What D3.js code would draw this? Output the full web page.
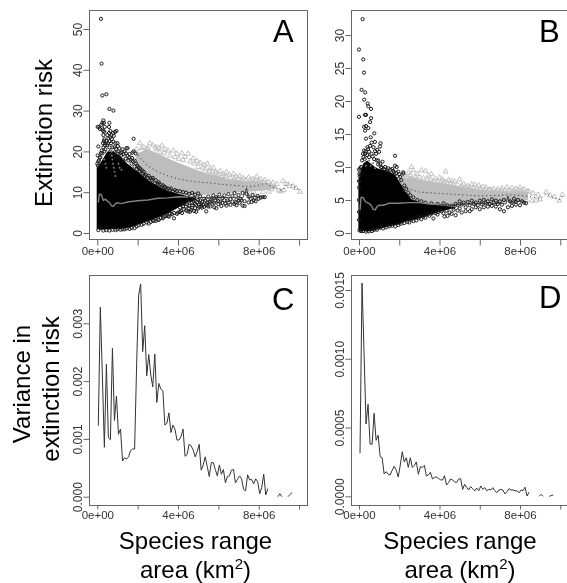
<!DOCTYPE html>
<html><head><meta charset="utf-8">
<script src="https://cdnjs.cloudflare.com/ajax/libs/d3/7.8.5/d3.min.js"></script>
<style>html,body{margin:0;padding:0;background:#fff;overflow:hidden}svg{display:block;filter:blur(0.35px)}text{font-family:"Liberation Sans",Arial,sans-serif}</style>
</head><body><svg id="c" width="567" height="583"></svg>
<script>
// x values are in millions of km2
const xTicks=[0,2,4,6,8,10];
const xTickLabels=["0e+00","","4e+06","","8e+06",""];
const yTicksA=[0,10,20,30,40,50], yTicksB=[0,5,10,15,20,25,30];
const yTicksC=[0,0.001,0.002,0.003], yTickLabelsC=["0.000","0.001","0.002","0.003"];
const yTicksD=[0,0.0005,0.001,0.0015], yTickLabelsD=["0.0000","0.0005","0.0010","0.0015"];

// dense black mass: [x, upper, lower]
const massA=[[-0.03,16,1],[0.2,17.5,0.8],[0.5,20,0.9],[0.8,20,1],[1.1,19,1],[1.5,17,1.2],[1.8,15.8,1.6],[2,15,2],[2.5,13,2.9],[3,11.5,3.8],[3.5,10.3,4.8],[4,9.6,6.2],[4.5,9,7.6],[4.9,8.6,8]];
const massB=[[-0.03,8,0.4],[0.05,9,0.3],[0.2,10.5,0.3],[0.4,11,0.2],[0.6,10.5,0.3],[0.8,10,0.4],[1,9.7,0.6],[1.4,9.5,0.9],[1.8,8.8,1.2],[2,7.8,1.3],[2.3,6.3,1.7],[2.6,5.1,1.9],[3,4.7,2.2],[3.5,4.4,2.7],[4,4.2,3.2],[4.5,4,3.6],[4.8,3.9,3.85]];
// dense grey mass: [x, upper, lower]
const greyA=[[1.9,19.5,15],[2.2,20,13.5],[2.5,20.5,12.5],[3,19.5,11],[3.5,18.3,10],[4,17.2,9.4],[4.5,16.3,9.2],[5,15.3,9.2],[5.5,14.6,9.4],[6,14,9.6],[6.5,13.2,9.8],[7,12.9,10],[7.5,12.6,10.2],[8,12.6,10.3],[8.5,12,10.6],[8.9,11.5,10.9]];
const greyB=[[1.9,8,7.6],[2.2,8.2,6.3],[2.5,8.5,5.3],[2.7,8.4,4.9],[3,8.1,4.6],[3.5,7.8,4.3],[4,7.6,4.1],[4.5,7.3,4],[5,7,4.2],[5.5,6.8,4.3],[6,6.6,4.3],[6.5,6.4,4.5],[7,6.4,4.6],[7.5,6.4,4.7],[8,6.4,4.8],[8.4,6.2,5]];
// mean curves
const meanLowA=[[0.05,7.5],[0.1,9.5],[0.2,9.4],[0.3,8],[0.4,8.3],[0.5,7.8],[0.6,7.5],[0.7,6.7],[0.8,6.5],[0.9,7.2],[1,7.4],[1.2,7.2],[1.5,7.6],[2,7.9],[2.5,8.1],[3,8.5],[3.5,8.6],[4,8.9],[4.5,8.8]];
const meanLowTailA=[[4.5,8.8],[5,8.8],[5.5,8.6],[6,8.7],[6.5,8.7],[7,8.8],[7.2,8.5],[7.4,11],[7.5,8.5],[7.7,9],[8,9],[8.3,8.8]];
const meanHighA=[[1.9,19.8],[2.2,18],[2.5,16.5],[3,15],[3.5,14],[4,13.3],[4.5,12.8],[5,12.5],[5.5,12.3],[6,12],[6.5,11.8],[7,11.6],[7.5,11.3],[8,11.7],[8.3,12.2],[8.6,11.5],[9,10.6],[9.2,10.5],[9.45,12.5],[9.7,11.5],[9.9,11],[10.05,10.3]];
const meanLowB=[[0.05,3.5],[0.1,5.4],[0.2,5.4],[0.3,4.8],[0.4,4.6],[0.5,4.5],[0.6,4.2],[0.7,3.6],[0.8,3.5],[0.9,4],[1,4.2],[1.2,4.2],[1.5,4.5],[2,4.5],[2.5,4.6],[3,4.6],[3.5,4.4],[4,4.3]];
const meanLowTailB=[[4,4.3],[4.5,4.2],[5,4.3],[5.5,4.4],[6,4.5],[6.5,4.4],[7,4.5],[7.3,4.4],[7.4,5.6],[7.5,4.6],[8,4.8],[8.3,4.6]];
const meanHighB=[[2.03,7.3],[2.4,6.7],[3,6.2],[4,6],[4.5,5.9],[5,5.8],[6,5.6],[7,5.7],[7.4,5.8],[8,5.7],[8.5,5.5],[9,5.2],[9.3,5.9],[9.7,5.3],[9.95,5],[10.1,5.6]];

// individually readable circles
const circlesA=[[0.18,52.5],[0.21,41.5],[0.25,33.7],[0.45,34],[0.6,30.4],[0.8,30],[0.02,26],[0.1,26],[0.13,25.5],[0.2,26.5],[0.25,27],[0.3,27.6],[0.33,27],[0.37,26],[0.25,25.3],[0.3,25],[0.35,24.8],[0.6,27],[0.58,26],[0.65,25],[0.95,25],[0.88,24.8],[0.78,24.5],[0.82,23.8],[0.7,24],[0.72,23],[0.62,22.5],[0.3,24],[0.35,23],[0.55,23.2],[0.4,22],[0.05,21.2],[0.3,21],[0.4,20.5],[0.5,21.5],[0.6,21],[0.75,21],[0.9,22],[1,22],[1.02,21.3],[1.1,20.7],[1.25,20.5],[1.45,20.8],[1.5,20.8],[1.8,23.1],[1.8,20],[1.75,19.7],[1.6,19.4],[1.9,19.5],[0.02,19],[0.05,17.5],[0.15,18.5],[0.25,19.5],[0.35,20],[0.65,20],[0.85,19.7],[1,19.5],[1.2,19],[1.4,18.2],[1.55,17.8],[1.7,17],[1.85,16.3],[1.95,15.6],[2.1,15.2],[2.25,14.6],[2.35,14],[2.5,13.5],[2.7,13],[2.85,12.2],[3,12],[3.2,11.4],[3.4,11],[3.6,10.5],[3.75,10.2],[1.3,17.8],[1.1,18.5],[0.95,18.8],[0.7,19],
[3.8,3.6],[4,5],[4.1,5.2],[4.2,4.9],[4.4,5.5],[4.5,5.3],[4.6,5.2],[4.7,6.2],[4.8,5.4],[4.9,5.2],[5.05,7],[5.2,6.2],[5.4,5.3],[5.6,6.5],[5.7,7.2],[5.8,6.3],[5.9,6.1],[6,7.1],[6.15,6.6],[6.3,8],[6.4,6.7],[6.6,6.9],[6.8,7.1],[6.9,6.8],[7.05,7.4],[7.2,6.7],[7.3,6.6],[7.5,7.5],[7.65,7.6],[7.75,8],[7.85,7.8],[8,8.4],[8.1,8.7],[8.3,8.8],[3.3,4],[3.5,4.2],[3.6,4.7],[3.7,4.6],[2.8,3],[3,3.3],[3.15,3.7],[2.2,2],[2.45,2.6],[2.65,2.7],[1.85,1.2],[1.6,1],[1.35,0.9],[1.15,0.8],[0.05,0.7],[0.15,1.3],
[4.2,7],[4.4,6.5],[4.5,7.7],[4.6,8.2],[4.7,7.4],[4.8,8.6],[4.9,6.9],[5,8.1],[5.1,9],[5.2,7.6],[5.3,8.4],[5.4,7],[5.5,8.9],[5.55,7.7],[5.65,8.2],[5.75,9.2],[5.85,7.9],[5.95,8.5],[6.05,9.4],[6.1,7.7],[6.2,8.6],[6.3,9.2],[6.45,8],[6.5,9.5],[6.6,8.3],[6.7,9],[6.8,9.8],[6.9,8.2],[7,9.3],[7.1,8.4],[7.2,9.8],[7.3,7.8],[7.4,9.6],[7.5,8.9],[7.6,8.4],[7.7,9.3],[7.8,8.6],[7.95,9.1],[8.2,8.8]];
const fringeA=[[0,17],[0.03,16.5],[0.08,17.8],[0.12,18.6],[0.18,19.6],[0.22,20.2],[0.28,22],[0.33,22.5],[0.38,21.5],[0.45,22.5],[0.5,24],[0.53,22],[0.58,24.5],[0.64,23.5],[0.68,22],[0.8,22.4],[0.85,21],[0.92,20.6],[1.05,20],[1.15,19.6],[1.22,19.8],[1.3,19.3],[1.35,20],[1.42,19.5],[1.5,18.9],[1.58,18.5],[1.65,18],[1.72,18.4],[1.78,17.5],[1.85,17.7],[1.92,17],[1.98,16.5],[2.05,16.1],[2.12,15.8],[2.2,15.4],[2.3,15],[2.4,14.3],[2.55,14],[2.65,13.4],[2.75,13.5],[2.9,12.9],[3.05,12.4],[3.1,11.9],[3.25,11.7],[3.35,11.3],[3.5,10.9],[3.65,10.9],[3.85,10.5],[3.95,10.3],[4.1,10.2],[4.25,10],[4.4,9.9],[4.55,9.6],[4.7,9.8],[4.85,9.4],[5,9.7],
[0.3,0.6],[0.45,0.7],[0.6,0.6],[0.75,0.8],[0.9,0.7],[1,0.9],[1.25,0.9],[1.45,1.1],[1.7,1.2],[1.95,1.6],[2.05,1.9],[2.3,2.3],[2.55,2.3],[2.75,3],[2.9,3],[3.05,3.2],[3.25,3.6],[3.4,4.1],[3.55,4],[3.8,4.9],[3.95,4.7],[4.15,5.5],[4.3,5.8],[4.55,6],[4.65,5.7],[4.85,6.1],[5,6],[5.15,6.5],[5.3,6.4],[5.45,6.8],
[4.1,6.2],[4.25,6.6],[4.3,7.3],[4.45,7],[4.55,6.7],[4.7,6.8],[4.75,7.9],[4.85,7.2],[4.95,7.6],[5.05,6.4],[5.1,8],[5.15,7.2],[5.25,6.9],[5.35,8],[5.45,7.5],[5.5,6.5],[5.6,7.6],[5.7,8.5],[5.8,7.4],[5.9,8.8],[6,7.8],[6.2,7.4],[6.35,7.2],[6.5,7.5],[6.7,7.7],[6.85,7.5],[7,7.9],[7.15,8]];
const circlesB=[[0.18,32.4],[0,27.8],[0.21,26.3],[0.25,24.3],[0.13,21.7],[0.31,21.3],[0.26,20.2],[0.43,19.6],[0.46,19.2],[0.6,18.8],[0,17.6],[0.3,17.9],[0.35,17.9],[0.6,17.4],[0.55,16.8],[0.25,16.1],[0.35,16.2],[0.46,15.9],[0.3,15.5],[0.76,15.1],[0.35,14.3],[0.58,14.5],[0.63,13.7],[0.79,13.8],[1.07,13.6],[1.04,13.1],[0.9,12.6],[0.72,13],[0.55,13.2],[0.42,13],[0.25,12.5],[0.2,12],[0.3,12],[0.5,12.3],[0.85,12],[1,12.3],[1.17,10.8],[1.05,10.5],[0.95,11],[1.79,11.7],[1.79,10.2],[1.87,10],[2.2,9.2],[1.95,9.3],[1.75,9.2],[2,8.9],[2.2,9],[1.55,9.6],[1.4,9.5],[1.25,9.7],[1.9,8.6],[0,9.6],[0.05,9.8],[0.03,8.6],[0.08,8.9],[0,6.9],[-0.01,5],[0,3.2],[0,2],[0.02,0.4],[0.1,0.3],
[2.5,1.6],[2.6,2],[2.85,1.9],[3,2.5],[3.1,2.1],[3.3,2.3],[3.5,2.6],[3.7,2.2],[3.8,3],[3.9,2.8],[4.2,3],[4.25,2.5],[4.4,2.6],[4.5,3.1],[4.6,2.9],[4.8,2.7],[4.9,3.4],[5,3.7],[5.1,3.1],[5.3,3.3],[5.5,3.3],[5.6,3.6],[5.8,3.9],[6,3.6],[6.2,3.9],[6.4,4],[6.6,4.1],[6.8,4],[7,3.6],[7.2,3.3],[7.4,3.9],[7.6,4.1],[7.8,4.3],[8,4.2],[8.3,4.5],
[4.6,4.1],[4.7,3.9],[4.8,4.4],[4.9,4.2],[5,4.8],[5.1,4.3],[5.2,4.6],[5.3,3.9],[5.4,4.7],[5.5,4.2],[5.6,4.9],[5.7,4.4],[5.8,4.6],[5.9,4.2],[6,4.9],[6.1,4.4],[6.2,5],[6.3,4.5],[6.4,4.8],[6.5,4.4],[6.6,5.1],[6.7,4.6],[6.8,4.9],[6.9,4.4],[7,4.8],[7.1,4.3],[7.2,5],[7.5,4.8],[7.6,4.6],[7.7,5.2],[7.8,4.7],[7.9,5],[8.1,4.8],[8.2,4.6]];
const fringeB=[[0,7.9],[0.02,9],[0.1,10],[0.15,11],[0.22,11.5],[0.28,11.2],[0.33,12.4],[0.4,11.8],[0.45,12.7],[0.5,11.5],[0.62,12],[0.68,11.6],[0.75,11.2],[0.8,12.4],[0.88,11],[0.95,10.4],[1.1,10],[1.15,9.9],[1.3,10],[1.45,9.8],[1.65,9.7],[1.7,9.4],[1.85,9.1],[2.05,8.5],[2.1,8],[2.25,7.2],[2.35,6.7],[2.45,6.1],[2.55,5.7],[2.7,5.4],[2.9,5],[3.1,4.8],[3.3,4.6],[3.6,4.5],[3.9,4.4],[4.2,4.5],[4.4,4.2],
[0.2,0.3],[0.35,0.2],[0.5,0.25],[0.65,0.3],[0.75,0.45],[0.9,0.5],[1.05,0.8],[1.2,0.7],[1.35,0.85],[1.5,1],[1.65,1.1],[1.8,1],[1.95,1.2],[2.1,1.4],[2.25,1.5],[2.4,1.7],[2.7,1.8],[2.95,2.2],[3.2,2.5],[3.4,2.8],[3.6,2.9],[3.95,3.2],[4.1,3.3],[4.35,3.4],[4.7,3.5]];
// paler streaks seen inside the mass
const streakA=[[0.68,21],[0.7,20],[0.72,19],[0.75,18],[0.78,17],[0.82,16],[0.86,15],[0.9,14],[1.05,17],[1.1,16],[1.2,15.5],[0.35,18],[0.4,17],[0.45,16]];
const streakB=[[0.3,11],[0.35,10.2],[0.5,11],[0.58,10.2],[0.7,10.6],[0.8,9.8]];
// individually readable triangles
const trianglesA=[[1.95,20.5],[2.1,22],[2.3,21],[2.45,20.6],[2.6,22],[2.75,21.5],[2.95,20.5],[3.2,21.4],[3.35,20.5],[3.5,20.2],[3.77,20.2],[3.95,19.4],[4.2,19.5],[4.5,19.4],[4.35,18.6],[4.76,18.3],[4.95,17.6],[5.1,17.2],[5.3,16.7],[5.45,17],[5.6,15.8],[5.75,16],[5.9,14.9],[6.1,15.2],[6.25,14.5],[6.4,14.9],[6.75,14.5],[6.55,14.3],[6.9,13.8],[7.07,14],[7.25,13.4],[7.5,13.6],[7.7,13.2],[7.9,13.8],[8.1,13.2],[8.3,13],[8.5,12.5],[8.7,12.3],[8.9,12],[9.2,12.7],[9.35,12],[9.5,11.5],[9.7,11.4],[9.85,11],[8.2,10.1],[8.5,10.1],[8.65,10.7],[9,10.4],[9.1,10.2],[9.25,10.5],[10.05,10.1],[7.45,10],[7.75,10.1],[3.1,19.8],[2.85,19.2],
[2.2,20.8],[2.5,20.7],[2.9,21],[3.05,20.9],[3.3,19.5],[3.6,19],[3.85,18.6],[4.05,18.2],[4.25,17.9],[4.6,17.5],[4.8,17],[5,16.2],[5.2,16],[5.35,15.6],[5.55,15.2],[5.7,15],[5.85,14.8],[6,14.5],[6.2,14],[6.35,14],[6.6,13.6],[6.8,13.5],[7,13.2],[7.15,13],[7.35,13],[7.6,13],[7.8,13],[8,12.9],[8.25,12.4],[8.4,12.3],[8.6,11.9]];
const trianglesB=[[2.05,8.3],[2.25,8.7],[2.45,9.1],[2.6,10],[2.7,9.5],[2.9,8.9],[3.1,9.5],[3.3,9.4],[3.45,8.7],[3.6,8.9],[3.8,8.2],[4,8.4],[4.15,8.1],[4.3,9.3],[4.45,8],[4.6,7.9],[4.75,7.8],[5,8.1],[5.2,7.4],[5.4,7.1],[5.6,7.4],[5.75,7.3],[5.95,7.2],[6.15,7],[6.3,6.9],[6.5,6.6],[6.7,6.7],[6.9,6.6],[7.1,6.8],[7.35,6.9],[7.6,6.8],[7.8,6.7],[8,6.9],[8.2,6.6],[8.45,6.3],[8.65,6],[8.9,5.8],[9.3,6.2],[9.5,5.7],[9.7,5.5],[9.95,4.9],[10.1,5.8],[8.6,4.9],[8.8,4.9],[9,5.1],[8.3,5],[7.7,5.2],[5.2,4.4],[5.8,4.6],
[2.15,8.4],[2.35,8.5],[2.55,8.8],[2.8,8.6],[3,8.5],[3.2,8.3],[3.4,8.1],[3.55,8],[3.7,7.9],[3.9,7.9],[4.1,7.8],[4.25,7.8],[4.4,7.6],[4.55,7.5],[4.7,7.4],[4.9,7.3],[5.1,7.2],[5.3,7],[5.5,6.9],[5.7,6.9],[5.85,6.8],[6.05,6.7],[6.25,6.6],[6.45,6.5],[6.6,6.5],[6.85,6.4],[7.05,6.5],[7.25,6.5],[7.5,6.5],[7.7,6.5],[7.9,6.5],[8.1,6.5],[8.35,6.3]];

// binned variance curves (null = empty bin)
const binMid=[0.05,0.15,0.25,0.35,0.45,0.55,0.65,0.75,0.85,0.95,1.05,1.15,1.25,1.35,1.45,1.55,1.65,1.75,1.85,1.95,2.05,2.15,2.25,2.35,2.45,2.55,2.65,2.75,2.85,2.95,3.05,3.15,3.25,3.35,3.45,3.55,3.65,3.75,3.85,3.95,4.05,4.15,4.25,4.35,4.45,4.55,4.65,4.75,4.85,4.95,5.05,5.15,5.25,5.35,5.45,5.55,5.65,5.75,5.85,5.95,6.05,6.15,6.25,6.35,6.45,6.55,6.65,6.75,6.85,6.95,7.05,7.15,7.25,7.35,7.45,7.55,7.65,7.75,7.85,7.95,8.05,8.15,8.25,8.35,8.45,8.55,8.65,8.75,8.85,8.95,9.05,9.15,9.25,9.35,9.45,9.55,9.65];
const varC=[1.228,3.277,2.105,.855,2.29,1.02,.986,2.567,1.32,1.742,
1.08,1.17,.618,.675,.652,.692,.796,.825,.825,2.3,
3.49,3.68,2.51,2.96,2.09,2.46,2.105,1.90,2.47,1.63,
1.96,1.86,1.83,1.24,1.27,1.45,1.11,1.24,1.166,.98,
.98,1.04,1.17,.70,.73,.906,.88,.81,.69,.78,
.906,.46,.55,.69,.52,.35,.59,.59,.47,.36,
.55,.39,.47,.24,.35,.36,.46,.47,.24,.30,
.36,.31,.13,.10,.38,.29,.30,.22,.31,.26,
.05,.16,.39,.03,.14,null,null,null,null,0,
.052,0,null,null,0,.035,.076];
const varD=[.313,1.55,1.05,.526,.669,.38,.378,.604,.407,.444,
.288,.28,.162,.179,.16,.155,.19,.218,.19,.14,
.225,.324,.25,.28,.21,.28,.21,.225,.25,.16,
.215,.21,.225,.148,.155,.175,.126,.138,.14,.13,
.12,.118,.15,.082,.10,.126,.118,.105,.10,.126,
.128,.05,.087,.066,.046,.07,.055,.039,.06,.041,
.075,.05,.063,.041,.05,.046,.063,.041,.026,.046,
.05,.046,.017,.033,.055,.046,.046,.041,.039,.026,
.046,.041,.066,.002,.03,null,null,null,null,0,
.015,0,null,null,0,.005,.01];

const svg=d3.select("#c");
const tickCol="#333", boxCol="#666";

function frame(o){
  const x=d3.scaleLinear().domain([0,8]).range([o.x0,o.x8]);
  const y=d3.scaleLinear().domain(o.yDom).range(o.yRange);
  svg.append("rect").attr("x",o.left+.5).attr("y",o.top+.5).attr("width",o.right-o.left).attr("height",o.bottom-o.top)
    .attr("fill","none").attr("stroke",boxCol).attr("stroke-width",1);
  const ax=d3.axisBottom(x).tickValues(xTicks).tickSize(o.tick).tickPadding(o.xPad).tickFormat((d,i)=>xTickLabels[i]);
  const gx=svg.append("g").attr("transform",`translate(0,${o.bottom+.5})`).call(ax);
  const ay=d3.axisLeft(y).tickValues(o.yTicks).tickSize(6).tickPadding(3).tickFormat((d,i)=>o.yLabels?o.yLabels[i]:d);
  const gy=svg.append("g").attr("transform",`translate(${o.left+.5},0)`).call(ay);
  [gx,gy].forEach(g=>{g.select(".domain").remove();g.selectAll("line").attr("stroke",boxCol);
    g.selectAll("text").attr("fill",tickCol).style("font-family",'"Liberation Sans",Arial,sans-serif');});
  gx.selectAll("text").style("font-size","11.5px");
  gy.selectAll("text").style("font-size","12px").attr("text-anchor","middle").attr("x",0).attr("y",0).attr("dy",0)
    .attr("transform","translate(-7.5,0) rotate(-90)");
  svg.append("text").text(o.letter).attr("x",o.lx).attr("y",o.ly).attr("font-size",31).attr("fill","#000");
  return {x,y};
}
function scatter(s,mass,grey,tri,circ,fringe,streak,meanHigh,meanLow,meanTail){
  const {x,y}=s;
  const g=svg.append("g");
  const area=d3.area().x(d=>x(d[0])).y0(d=>y(d[2])).y1(d=>y(d[1]));
  g.append("path").attr("d",area(grey)).attr("fill","#bdbdbd");
  const tr=d3.symbol().type(d3.symbolTriangle).size(11)();
  g.append("g").selectAll("path").data(tri).join("path").attr("d",tr)
    .attr("transform",d=>`translate(${x(d[0])},${y(d[1])})`).attr("fill","none").attr("stroke","#c0c0c0").attr("stroke-width",1);
  const ln=d3.line().x(d=>x(d[0])).y(d=>y(d[1]));
  g.append("path").attr("d",ln(meanHigh)).attr("fill","none").attr("stroke","#222").attr("stroke-width",1).attr("stroke-dasharray","1 3");
  g.append("path").attr("d",area(mass)).attr("fill","#000");
  g.append("g").selectAll("circle").data(circ.concat(fringe)).join("circle").attr("cx",d=>x(d[0])).attr("cy",d=>y(d[1])).attr("r",1.6)
    .attr("fill","none").attr("stroke","#1a1a1a").attr("stroke-width",1);
  g.append("g").selectAll("circle").data(streak).join("circle").attr("cx",d=>x(d[0])).attr("cy",d=>y(d[1])).attr("r",1)
    .attr("fill","#777").attr("stroke","none");
  g.append("path").attr("d",ln(meanLow)).attr("fill","none").attr("stroke","#808080").attr("stroke-width",1.4);
  g.append("path").attr("d",ln(meanTail)).attr("fill","none").attr("stroke","#333").attr("stroke-width",.9);
}
function variance(s,vals,scale){
  const {x,y}=s;
  const pts=binMid.map((m,i)=>[m,vals[i]]);
  const ln=d3.line().defined(d=>d[1]!==null).x(d=>x(d[0])).y(d=>y(d[1]*scale));
  svg.append("path").attr("d",ln(pts)).attr("fill","none").attr("stroke","#333").attr("stroke-width",1);
}
function title(txt,x,y,rot){
  const t=svg.append("text").attr("text-anchor","middle").attr("font-size",24).attr("fill","#000").text(txt);
  if(rot) t.attr("transform",`translate(${x},${y}) rotate(-90)`); else t.attr("x",x).attr("y",y);
}
function areaTitle(x,y){
  const t=svg.append("text").attr("x",x).attr("y",y).attr("text-anchor","middle").attr("font-size",24).attr("fill","#000");
  t.append("tspan").text("area (km");
  t.append("tspan").text("2").attr("font-size",15).attr("dy",-9);
  t.append("tspan").text(")").attr("dy",9);
}

const A={left:89,right:307,top:10,bottom:239,x0:97.3,x8:258.7,yDom:[0,50],yRange:[233,29],yTicks:yTicksA,letter:"A",lx:273,ly:42,tick:6,xPad:1};
const B={left:351,right:575,top:10,bottom:239,x0:359,x8:520,yDom:[0,30],yRange:[233,35],yTicks:yTicksB,letter:"B",lx:539,ly:42,tick:6,xPad:1};
const C={left:89,right:307,top:275,bottom:505,x0:97.3,x8:258.7,yDom:[0,0.003],yRange:[496.7,323.3],yTicks:yTicksC,yLabels:yTickLabelsC,letter:"C",lx:272,ly:310,tick:4,xPad:1.5};
const D={left:351,right:575,top:275,bottom:505,x0:359,x8:520,yDom:[0,0.0015],yRange:[496.3,290],yTicks:yTicksD,yLabels:yTickLabelsD,letter:"D",lx:539,ly:308,tick:4,xPad:1.5};

const sA=frame(A), sB=frame(B), sC=frame(C), sD=frame(D);
scatter(sA,massA,greyA,trianglesA,circlesA,fringeA,streakA,meanHighA,meanLowA,meanLowTailA);
scatter(sB,massB,greyB,trianglesB,circlesB,fringeB,streakB,meanHighB,meanLowB,meanLowTailB);
variance(sC,varC,0.001);
variance(sD,varD,0.001);

title("Extinction risk",52,133,true);
title("Variance in",30,384,true);
title("extinction risk",59,389,true);
title("Species range",195.5,549);
areaTitle(195.5,578);
title("Species range",460,549);
areaTitle(460,578);
</script></body></html>
